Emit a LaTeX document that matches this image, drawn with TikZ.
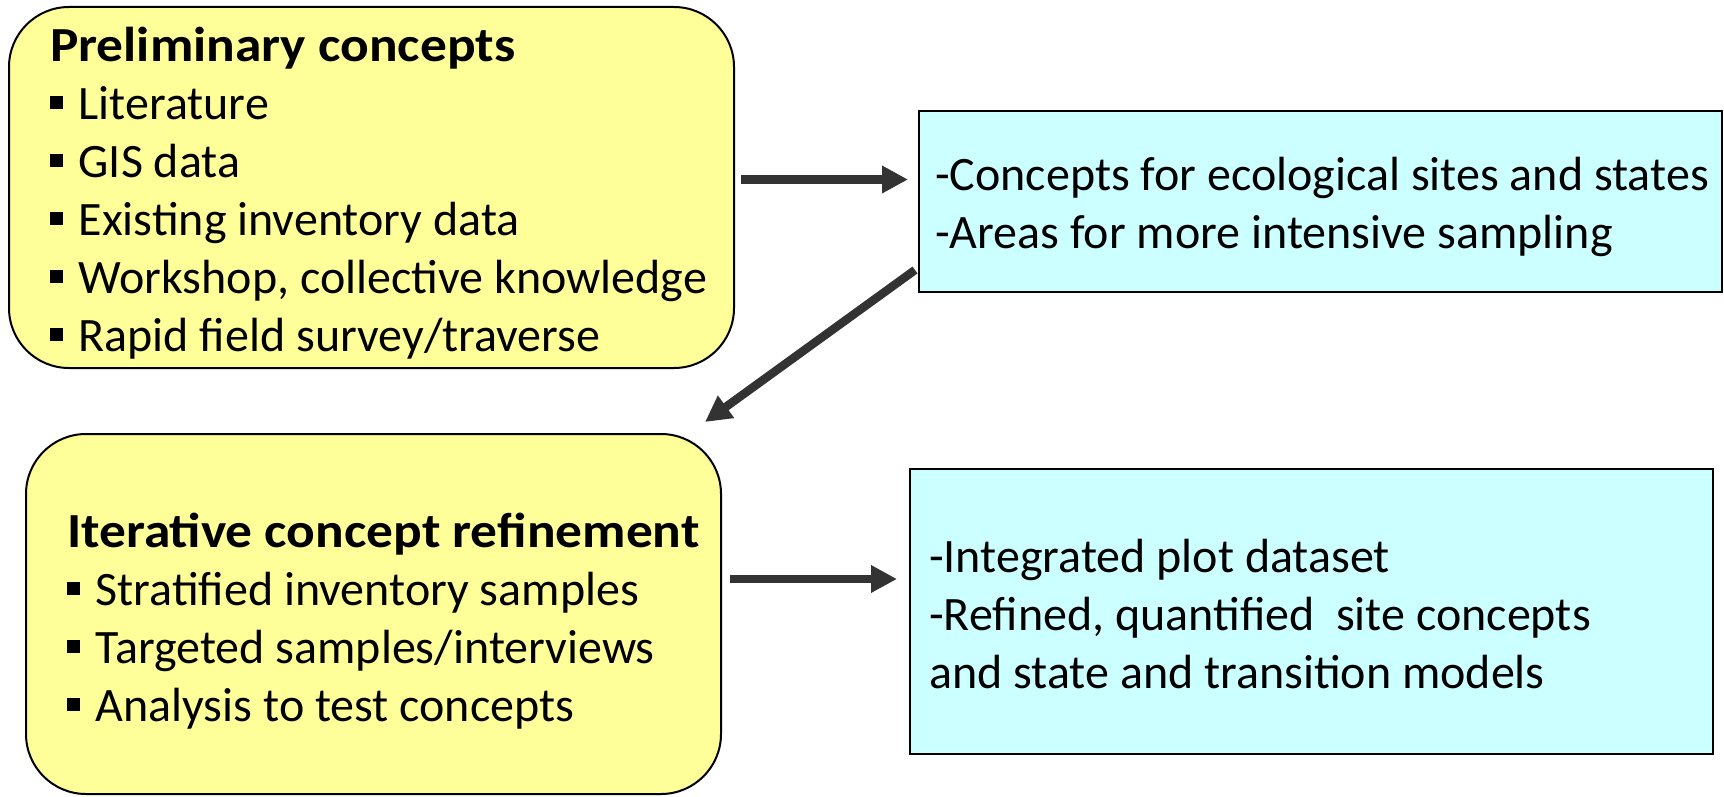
\documentclass[tikz,border=0pt]{standalone}
\usepackage{fontspec}
\setmainfont{Carlito}[BoldFeatures={FakeStretch=1.09}]
\usetikzlibrary{arrows.meta}
\definecolor{boxyellow}{HTML}{FFFF99}
\definecolor{boxcyan}{HTML}{CCFFFF}
\definecolor{arrowgray}{HTML}{333333}
\newcommand{\bitem}{\rule[10.5pt]{13pt}{13pt}\hspace{15.5pt}}
\newcommand{\boxtitle}[1]{{\fontsize{49}{58}\selectfont\bfseries #1}}
\begin{document}
\begin{tikzpicture}[x=1pt,y=1pt,
  font=\fontsize{48}{58}\selectfont,
  conceptbox/.style={draw=black,line width=2pt,fill=boxyellow,rounded corners=60pt},
  resultbox/.style={draw=black,line width=2pt,fill=boxcyan},
  boxtext/.style={anchor=west,align=left,inner sep=0pt},
  bigarrow/.style={draw=arrowgray,line width=8.5pt,-{Triangle[length=26pt,width=26pt]}}]
\useasboundingbox (0,0) rectangle (1724,-797);

\node[conceptbox,minimum width=725pt,minimum height=361pt] (prelim) at (371.5,-187.5) {};
\node[boxtext] (prelimtext) at (50,-193) {\boxtitle{Preliminary concepts}\\
  \bitem Literature\\
  \bitem GIS data\\
  \bitem Existing inventory data\\
  \bitem Workshop, collective knowledge\\
  \bitem Rapid field survey/traverse};

\node[resultbox,minimum width=803pt,minimum height=181pt] (concepts) at (1320.5,-201.5) {};
\node[boxtext] (conceptstext) at (935,-207) {-Concepts for ecological sites and states\\
  -Areas for more intensive sampling};

\node[conceptbox,minimum width=695pt,minimum height=360pt] (refine) at (373.5,-614) {};
\node[boxtext] (refinetext) at (67,-621) {\boxtitle{Iterative concept refinement}\\
  \bitem Stratified inventory samples\\
  \bitem Targeted samples/interviews\\
  \bitem Analysis to test concepts};

\node[resultbox,minimum width=803pt,minimum height=285pt] (dataset) at (1311.5,-611.5) {};
\node[boxtext] (datasettext) at (929,-614) {-Integrated plot dataset\\
  -Refined, quantified\ \ site concepts\\
  and state and transition models};

\draw[bigarrow,shorten <=6pt,shorten >=10pt] ([yshift=8pt]prelim.east) -- ([yshift=8pt]prelim.east -| concepts.west);
\draw[bigarrow] ([xshift=-3pt,yshift=23pt]concepts.south west) -- ([xshift=-17pt,yshift=11pt]refine.north east);
\draw[bigarrow,shorten <=8pt,shorten >=12pt] ([yshift=35pt]refine.east) -- ([yshift=35pt]refine.east -| dataset.west);
\end{tikzpicture}
\end{document}
